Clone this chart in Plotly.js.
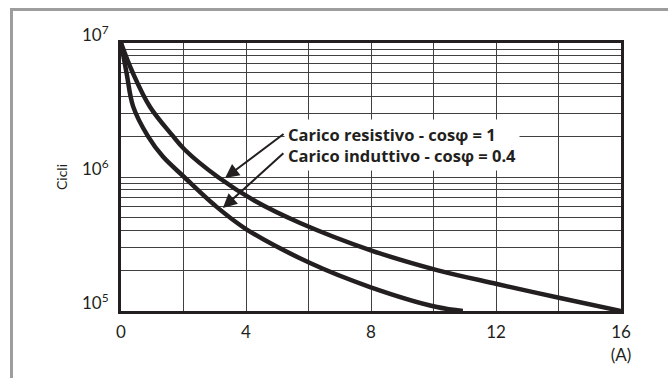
<!DOCTYPE html>
<html>
<head>
<meta charset="utf-8">
<script src="https://cdn.plot.ly/plotly-3.0.1.min.js"></script>
<style>
html, body { margin: 0; padding: 0; background: #ffffff; }
#wrap { position: relative; width: 668px; height: 378px; overflow: hidden; }
#frame { position: absolute; left: 10px; top: 8px; width: 700px; height: 400px;
  border-left: 3px solid #9d9d9d; border-top: 3px solid #9d9d9d; pointer-events: none; }
#chart { position: absolute; left: 0; top: 0; width: 668px; height: 378px; }
</style>
</head>
<body>
<div id="wrap">
<div id="frame"></div>
<div id="chart"></div>
</div>
<script>
// Current (A) vs. cycles
const resX = [0, 0.38, 0.93, 1.63, 2.05, 3.10, 4.29, 5.73, 7.97, 10.11, 12.03, 14.05, 16];
const resY = [1e7, 5.97e6, 3.33e6, 2.06e6, 1.59e6, 1.0e6, 6.62e5, 4.54e5, 2.85e5, 2.02e5, 1.59e5, 1.25e5, 1.0e5];
const indX = [0, 0.18, 0.39, 0.87, 1.34, 2.02, 3.01, 4.0, 6.05, 7.97, 10.11, 10.94];
const indY = [1e7, 5.94e6, 3.35e6, 2.0e6, 1.42e6, 1.0e6, 6.12e5, 4.09e5, 2.28e5, 1.51e5, 1.07e5, 1.0e5];

const xTickVals = [0, 4, 8, 12, 16];
const xTickText = ['0', '4', '8', '12', '16<br>(A)'];
const yTickVals = [1e5, 1e6, 1e7];
const yTickText = ['10<sup>5</sup>', '10<sup>6</sup>', '10<sup>7</sup>'];

const labelRes = 'Carico resistivo - cosφ = 1';
const labelInd = 'Carico induttivo - cosφ = 0.4';

const ink = '#231f20';
const gridC = '#404040';
const tickFont = {family: 'Lato, "Open Sans", sans-serif', size: 17, color: ink};

const traces = [
  {x: resX, y: resY, mode: 'lines', line: {color: ink, width: 4.5, shape: 'spline', smoothing: 1}, name: labelRes, hoverinfo: 'skip'},
  {x: indX, y: indY, mode: 'lines', line: {color: ink, width: 4.5, shape: 'spline', smoothing: 1}, name: labelInd, hoverinfo: 'skip'}
];

const layout = {
  width: 668, height: 378,
  margin: {l: 121, r: 47, t: 43, b: 67},
  paper_bgcolor: 'rgba(0,0,0,0)',
  plot_bgcolor: '#ffffff',
  showlegend: false,
  xaxis: {
    range: [0, 16], tickmode: 'array', tickvals: xTickVals, ticktext: xTickText,
    showgrid: true, gridcolor: gridC, gridwidth: 1,
    minor: {dtick: 2, showgrid: true, gridcolor: gridC, gridwidth: 1, ticks: ''},
    showline: true, mirror: true, linecolor: ink, linewidth: 3,
    ticks: '', tickfont: tickFont, ticklabelstandoff: 4, zeroline: false, fixedrange: true
  },
  yaxis: {
    type: 'log', range: [5, 7], tickmode: 'array', tickvals: yTickVals, ticktext: yTickText,
    showgrid: true, gridcolor: gridC, gridwidth: 1,
    minor: {dtick: 'D1', showgrid: true, gridcolor: gridC, gridwidth: 1, ticks: ''},
    showline: true, mirror: true, linecolor: ink, linewidth: 3,
    ticks: '', tickfont: tickFont, ticklabelstandoff: 6, ticklabelshift: -8,
    title: {text: 'Cicli', font: {family: 'Lato, "Open Sans", sans-serif', size: 14, color: ink}, standoff: 12},
    zeroline: false, fixedrange: true
  },
  annotations: [
    {x: 5.2, y: 6.24, xref: 'x', yref: 'y', xanchor: 'left', yanchor: 'middle', align: 'left',
     text: '<b>' + labelRes + '</b><br><b>' + labelInd + '</b>',
     showarrow: false, bgcolor: '#ffffff', borderpad: 3,
     font: {family: '"Open Sans", sans-serif', size: 16.5, color: ink}},
    {x: 3.33, y: 5.993, xref: 'x', yref: 'y', text: '', showarrow: true,
     ax: 60, ay: -45, arrowhead: 2, arrowsize: 1.4, arrowwidth: 2, arrowcolor: ink},
    {x: 3.26, y: 5.769, xref: 'x', yref: 'y', text: '', showarrow: true,
     ax: 62, ay: -56, arrowhead: 2, arrowsize: 1.4, arrowwidth: 2, arrowcolor: ink}
  ]
};

Plotly.newPlot('chart', traces, layout, {staticPlot: true});
</script>
</body>
</html>
